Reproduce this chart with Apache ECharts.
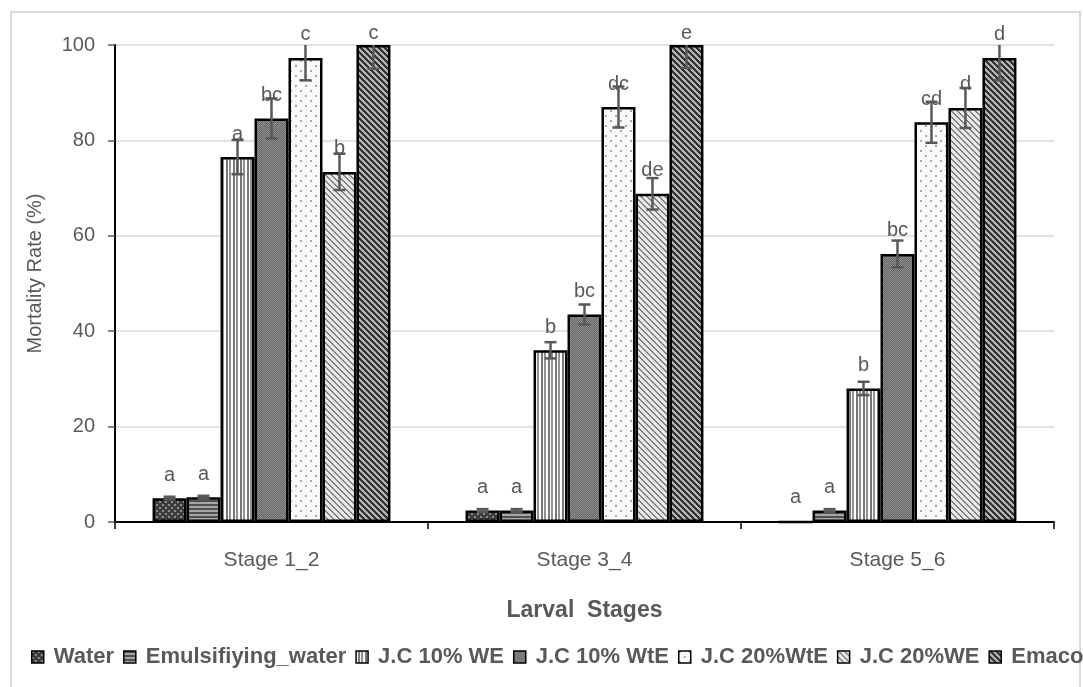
<!DOCTYPE html>
<html><head><meta charset="utf-8">
<script src="https://cdn.jsdelivr.net/npm/echarts@6/dist/echarts.min.js"></script>
<style>html,body{margin:0;padding:0;background:#fff}#c{width:1083px;height:687px}</style>
</head><body><div id="c"></div>
<script>
const categories = ['Stage 1_2', 'Stage 3_4', 'Stage 5_6'];
const seriesNames = ['Water', 'Emulsifiying_water', 'J.C 10% WE', 'J.C 10% WtE', 'J.C 20%WtE', 'J.C 20%WE', 'Emacot'];
const yTicks = [0, 20, 40, 60, 80, 100];

const water   = [5.0, 2.4, 0];
const emuls   = [5.2, 2.4, 2.4];
const jc10we  = [76.5, 36.0, 28.0];
const jc10wte = [84.6, 43.5, 56.2];
const jc20wte = [97.3, 87.0, 83.8];
const jc20we  = [73.4, 68.8, 86.8];
const emacot  = [100, 100, 97.3];

const waterErr   = [0.3, 0.3, 0];
const emulsErr   = [0.3, 0.3, 0.3];
const jc10weErr  = [3.6, 1.7, 1.4];
const jc10wteErr = [4.2, 2.1, 2.8];
const jc20wteErr = [4.7, 4.3, 4.3];
const jc20weErr  = [3.8, 3.3, 4.2];
const emacotErr  = [5.0, 4.8, 4.7];

const waterLbl   = ['a', 'a', 'a'];
const emulsLbl   = ['a', 'a', 'a'];
const jc10weLbl  = ['a', 'b', 'b'];
const jc10wteLbl = ['bc', 'bc', 'bc'];
const jc20wteLbl = ['c', 'dc', 'cd'];
const jc20weLbl  = ['b', 'de', 'd'];
const emacotLbl  = ['c', 'e', 'd'];

const values = [water, emuls, jc10we, jc10wte, jc20wte, jc20we, emacot];
const errors = [waterErr, emulsErr, jc10weErr, jc10wteErr, jc20wteErr, jc20weErr, emacotErr];
const letters = [waterLbl, emulsLbl, jc10weLbl, jc10wteLbl, jc20wteLbl, jc20weLbl, emacotLbl];

function tile(w, h, fn) {
  const c = document.createElement('canvas'); c.width = w; c.height = h;
  const ctx = c.getContext('2d'); const img = ctx.createImageData(w, h);
  for (let y = 0; y < h; y++) for (let x = 0; x < w; x++) {
    const v = fn(x, y); const i = (y * w + x) * 4;
    img.data[i] = img.data[i + 1] = img.data[i + 2] = v; img.data[i + 3] = 255;
  }
  ctx.putImageData(img, 0, 0);
  return { image: c, repeat: 'repeat' };
}
const md = (a, n) => ((a % n) + n) % n;
const patterns = [
  tile(6, 6, (x, y) => ((x % 6 < 2 && y % 6 < 2) || (md(x + 3, 6) < 2 && md(y + 3, 6) < 2)) ? 140 : 60),
  tile(1, 4, (x, y) => (y % 4 < 2 ? 80 : 165)),
  tile(7, 1, (x, y) => [255, 255, 120, 120, 250, 145, 145][x]),
  tile(2, 2, (x, y) => ((x + y) % 2 ? 105 : 140)),
  tile(10, 10, (x, y) => ((x % 10 < 2 && y % 10 < 2) || (md(x + 5, 10) < 2 && md(y + 5, 10) < 2)) ? 170 : 250),
  tile(6, 6, (x, y) => (md(x - y, 6) < 2 ? 130 : 232)),
  tile(6, 6, (x, y) => (md(x - y, 6) < 3 ? 50 : 180))
];

const FONT = 'Liberation Sans, Arial, sans-serif';
const CAT_GAP = 0.24;
const N = seriesNames.length;

const barSeries = seriesNames.map((name, si) => ({
  name, type: 'bar',
  barGap: '0%', barCategoryGap: (CAT_GAP * 100) + '%',
  itemStyle: { color: patterns[si], borderColor: '#000', borderWidth: 2.5 },
  label: {
    show: true, position: 'top', distance: 13,
    fontFamily: FONT, fontSize: 20, color: '#595959',
    formatter: p => letters[si][p.dataIndex]
  },
  z: 2,
  data: values[si].map(v => (v >= 99.5 ? { value: v, label: { distance: 2 } } : v))
}));

const errData = [];
values.forEach((arr, si) => arr.forEach((v, ci) => errData.push([ci, si, v, errors[si][ci]])));

const errSeries = {
  type: 'custom', name: 'err', silent: true, z: 5,
  encode: { x: 0, y: 2 },
  data: errData,
  renderItem(params, api) {
    const ci = api.value(0), si = api.value(1), v = api.value(2), e = api.value(3);
    if (!e) return null;
    const band = api.size([1, 0])[0];
    const bw = band * (1 - CAT_GAP) / N;
    const cx = api.coord([ci, 0])[0] + (si - (N - 1) / 2) * bw;
    const hiV = Math.min(v + e, 100), loV = Math.max(v - e, 0);
    const yHi = api.coord([ci, hiV])[1], yLo = api.coord([ci, loV])[1];
    const st = { stroke: '#595959', lineWidth: 2.5 };
    const hw = 6;
    const ch = [{ type: 'line', shape: { x1: cx, y1: yHi, x2: cx, y2: yLo }, style: st },
                { type: 'line', shape: { x1: cx - hw, y1: yLo, x2: cx + hw, y2: yLo }, style: st }];
    if (v + e <= 100) ch.push({ type: 'line', shape: { x1: cx - hw, y1: yHi, x2: cx + hw, y2: yHi }, style: st });
    return { type: 'group', children: ch };
  }
};

const chart = echarts.init(document.getElementById('c'), null, { renderer: 'canvas' });
chart.setOption({
  backgroundColor: '#fff',
  animation: false,
  graphic: [{ type: 'rect', shape: { x: 11, y: 12, width: 1069, height: 700 },
              style: { fill: 'none', stroke: '#d9d9d9', lineWidth: 2 }, silent: true, z: -1 }],
  grid: { left: 115, right: 29, top: 45, bottom: 165, containLabel: false },
  legend: {
    data: seriesNames, left: 26, top: 641, width: 1400,
    itemWidth: 12, itemHeight: 12, itemGap: 9, icon: 'rect',
    itemStyle: { borderColor: '#000', borderWidth: 1.5 },
    textStyle: { fontFamily: FONT, fontSize: 22, fontWeight: 'bold', color: '#595959', padding: [0, 0, 0, 5] }
  },
  xAxis: {
    type: 'category', data: categories,
    name: 'Larval  Stages', nameLocation: 'middle', nameGap: 77,
    nameTextStyle: { fontFamily: FONT, fontSize: 23, fontWeight: 'bold', color: '#595959' },
    axisLine: { lineStyle: { color: '#000', width: 2 } },
    axisTick: { show: true, length: 7, lineStyle: { color: '#000', width: 1.5 } },
    axisLabel: { fontFamily: FONT, fontSize: 21, color: '#595959', margin: 28 }
  },
  yAxis: {
    type: 'value', min: yTicks[0], max: yTicks[yTicks.length - 1], interval: 20,
    name: 'Mortality Rate (%)', nameLocation: 'middle', nameGap: 70,
    nameTextStyle: { fontFamily: FONT, fontSize: 20, color: '#595959', padding: [0, 0, 0, 20] },
    axisLine: { show: true, lineStyle: { color: '#000', width: 2 } },
    axisTick: { show: true, length: 7, lineStyle: { color: '#595959', width: 1.5 } },
    axisLabel: { fontFamily: FONT, fontSize: 20, color: '#595959', margin: 20 },
    splitLine: { lineStyle: { color: '#d9d9d9', width: 1.5 } }
  },
  series: [...barSeries, errSeries]
});
</script></body></html>
